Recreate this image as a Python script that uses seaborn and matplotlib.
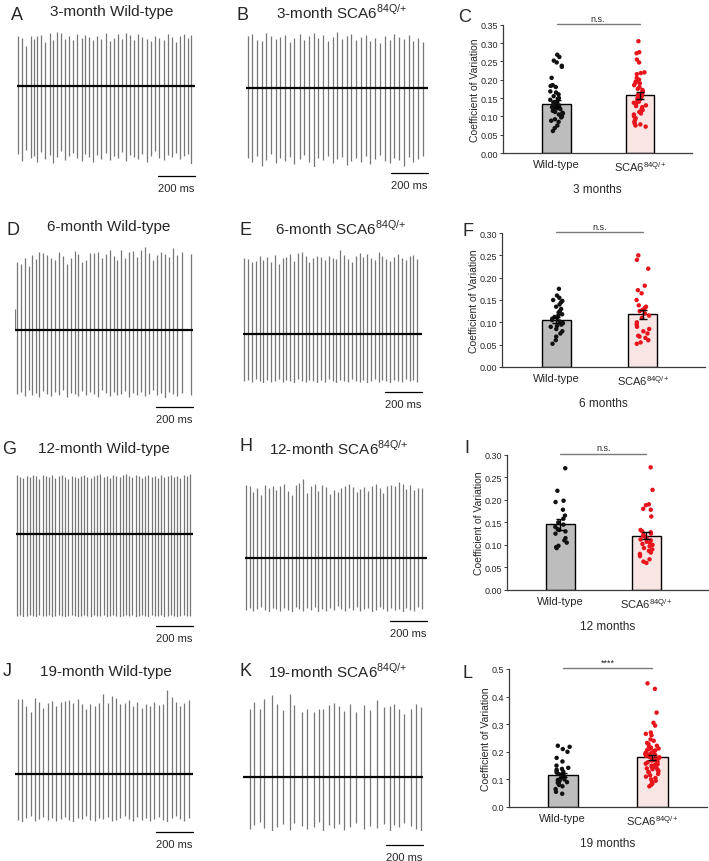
import numpy as np
import pandas as pd
import matplotlib
matplotlib.use("Agg")
import matplotlib.pyplot as plt
import seaborn as sns

sns.set_theme(style="white")
plt.rcParams["font.family"] = ["Liberation Sans", "DejaVu Sans"]

W, H = 709, 862
PX_PER_MS = 37 / 200.0

WT = "Wild-type"
SCA = r"SCA6$^{\mathregular{84Q/{+}}}$"
GROUPS = [WT, SCA]

# ---------------- spike traces (time in ms, amplitude in trace units) ----------------
A_times = [8, 27, 50, 74, 91, 110, 130, 152, 176, 197,
           218, 240, 262, 282, 303, 325, 349, 370, 391, 412,
           434, 456, 479, 500, 524, 546, 567, 588, 609, 631,
           656, 677, 701, 722, 747, 768, 792, 816, 837, 858,
           880, 904, 922, 940]
A_peaks = [50, 48, 40, 50, 47, 50, 51, 44, 53, 46,
           54, 53, 47, 50, 46, 52, 48, 51, 49, 46,
           50, 47, 53, 45, 48, 52, 47, 53, 51, 46,
           52, 49, 47, 45, 50, 48, 46, 52, 49, 44,
           50, 52, 48, 51]
A_troughs = [-68, -75, -64, -72, -70, -76, -66, -73, -69, -77,
             -71, -65, -74, -70, -67, -72, -75, -68, -71, -76,
             -69, -73, -67, -74, -70, -72, -66, -75, -69, -71,
             -73, -68, -76, -70, -65, -72, -74, -69, -71, -67,
             -73, -70, -68, -78]

B_times = [10, 33, 60, 84, 110, 137, 160, 186, 212, 236,
           262, 290, 314, 340, 366, 390, 416, 442, 468, 492,
           518, 545, 570, 596, 622, 647, 672, 699, 724, 750,
           776, 802, 828, 853, 880, 905, 932, 958]
B_peaks = [52, 54, 48, 47, 55, 52, 49, 51, 53, 46,
           50, 54, 48, 52, 55, 50, 53, 47, 51, 56,
           49, 52, 54, 48, 51, 53, 47, 50, 45, 52,
           48, 54, 51, 49, 53, 47, 50, 46]
B_troughs = [-70, -74, -68, -78, -72, -66, -75, -70, -73, -69,
             -76, -71, -67, -74, -79, -70, -72, -68, -75, -71,
             -69, -77, -73, -70, -74, -68, -76, -71, -67, -73,
             -75, -70, -72, -78, -69, -74, -71, -68]

D_times = [0, 12, 30, 52, 74, 92, 112, 132, 153, 174, 195,
           216, 236, 258, 280, 300, 322, 342, 363, 384, 406,
           427, 448, 469, 490, 512, 533, 554, 575, 597, 618,
           640, 661, 682, 703, 724, 746, 767, 788, 810, 831,
           852, 874, 905, 950]
D_peaks = [21, 68, 66, 72, 64, 75, 71, 78, 77, 75, 72,
           70, 78, 74, 66, 72, 79, 76, 68, 70, 77,
           77, 78, 72, 76, 80, 74, 70, 80, 72, 78,
           79, 73, 80, 83, 77, 70, 75, 78, 76, 73,
           82, 75, 78, 76]
D_troughs = [0, -64, -62, -66, -60, -65, -63, -67, -61, -64, -66,
             -62, -65, -60, -67, -63, -64, -66, -61, -65, -62,
             -64, -67, -60, -63, -66, -62, -65, -64, -61, -67,
             -63, -65, -62, -66, -64, -60, -65, -63, -68, -62,
             -64, -66, -63, -65]

E_times = [8, 28, 48, 68, 90, 110, 131, 152, 172, 193,
           214, 235, 255, 276, 297, 318, 338, 359, 380, 401,
           422, 442, 463, 484, 505, 526, 546, 567, 588, 609,
           630, 650, 671, 692, 713, 734, 754, 775, 796, 817,
           838, 858, 879, 900, 920, 940]
E_peaks = [76, 75, 72, 73, 78, 74, 77, 72, 79, 70,
           76, 77, 80, 73, 81, 82, 78, 72, 76, 78,
           77, 74, 78, 76, 75, 84, 79, 75, 72, 78,
           81, 77, 80, 76, 74, 82, 78, 75, 73, 77,
           80, 76, 74, 78, 79, 75]
E_troughs = [-47, -46, -48, -45, -47, -49, -46, -48, -47, -45,
             -48, -46, -47, -49, -45, -47, -48, -46, -47, -49,
             -46, -48, -45, -47, -49, -46, -47, -48, -45, -47,
             -48, -46, -49, -47, -45, -48, -46, -47, -49, -46,
             -47, -48, -45, -47, -46, -48]

G_times = [6, 22, 40, 57, 74, 92, 109, 126, 144, 161,
           178, 196, 213, 230, 248, 265, 282, 300, 317, 334,
           352, 369, 386, 404, 421, 438, 456, 473, 490, 508,
           525, 542, 560, 577, 594, 612, 629, 646, 664, 681,
           698, 716, 733, 750, 768, 785, 802, 820, 837, 854,
           872, 889, 906, 924, 941]
G_peaks = [59, 57, 56, 58, 57, 59, 58, 55, 59, 58,
           57, 59, 56, 58, 59, 57, 55, 58, 57, 56,
           58, 59, 57, 56, 58, 59, 60, 57, 58, 56,
           59, 58, 57, 59, 60, 58, 57, 59, 58, 56,
           58, 59, 57, 58, 56, 59, 57, 58, 59, 57,
           58, 56, 59, 58, 60]
G_troughs = [-82, -81, -83, -82, -81, -82, -83, -81, -82, -82,
             -81, -83, -82, -81, -82, -83, -82, -81, -82, -83,
             -82, -81, -82, -83, -81, -82, -82, -81, -83, -82,
             -81, -82, -83, -82, -81, -82, -81, -83, -82, -81,
             -82, -83, -81, -82, -82, -81, -83, -82, -81, -82,
             -83, -82, -81, -82, -82]

H_times = [6, 25, 45, 66, 87, 108, 128, 149, 170, 190,
           211, 232, 252, 273, 294, 314, 335, 356, 376, 397,
           418, 438, 459, 480, 500, 521, 542, 562, 583, 604,
           624, 645, 666, 686, 707, 728, 748, 769, 790, 810,
           831, 852, 872, 893, 914, 934, 955]
H_peaks = [73, 72, 66, 70, 63, 73, 70, 72, 68, 72,
           74, 67, 63, 73, 75, 79, 65, 72, 74, 67,
           73, 71, 64, 68, 66, 70, 72, 74, 71, 66,
           69, 71, 67, 72, 74, 70, 65, 72, 73, 72,
           76, 74, 69, 73, 68, 70, 70]
H_troughs = [-52, -50, -53, -51, -49, -52, -54, -50, -51, -53,
             -50, -52, -54, -49, -51, -53, -50, -52, -49, -54,
             -51, -53, -50, -52, -48, -51, -53, -50, -52, -49,
             -53, -51, -50, -54, -52, -49, -51, -53, -50, -52,
             -51, -54, -50, -52, -53, -49, -51]

J_times = [14, 38, 60, 84, 106, 130, 152, 176, 200, 222,
           246, 268, 292, 314, 338, 362, 384, 408, 430, 454,
           476, 500, 522, 546, 570, 592, 616, 638, 662, 684,
           708, 732, 754, 778, 800, 824, 846, 870, 894, 916,
           940]
J_peaks = [75, 75, 68, 62, 76, 72, 66, 71, 73, 68,
           72, 73, 74, 71, 75, 70, 65, 70, 68, 71,
           80, 71, 78, 76, 70, 71, 74, 68, 72, 66,
           70, 68, 72, 69, 70, 84, 77, 72, 68, 71,
           74]
J_troughs = [-46, -48, -44, -42, -47, -45, -43, -46, -44, -47,
             -45, -43, -46, -48, -44, -45, -42, -46, -47, -44,
             -45, -43, -47, -46, -44, -42, -45, -47, -43, -46,
             -44, -47, -45, -43, -46, -48, -44, -42, -45, -47,
             -44]

K_times = [36, 61, 94, 115, 157, 184, 216, 256, 274, 319,
           346, 382, 409, 432, 463, 490, 517, 547, 580, 612,
           655, 688, 724, 760, 792, 817, 841, 868, 907, 936,
           963]
K_peaks = [68, 75, 68, 78, 82, 73, 67, 83, 72, 65,
           68, 65, 68, 68, 72, 74, 71, 66, 73, 65,
           72, 67, 77, 70, 71, 73, 68, 63, 68, 73,
           70]
K_troughs = [-52, -48, -45, -51, -54, -50, -47, -53, -46, -49,
             -52, -50, -45, -54, -48, -51, -47, -53, -50, -46,
             -52, -49, -51, -47, -54, -48, -50, -46, -49, -52,
             -54]

# ---------------- coefficient of variation data ----------------
C_wt = [0.268, 0.262, 0.252, 0.247, 0.238, 0.235, 0.205, 0.185, 0.183, 0.180,
        0.168, 0.165, 0.160, 0.155, 0.150, 0.148, 0.145, 0.140, 0.138, 0.135,
        0.133, 0.130, 0.128, 0.125, 0.122, 0.120, 0.118, 0.115, 0.112, 0.110,
        0.108, 0.105, 0.100, 0.097, 0.092, 0.088, 0.085, 0.075, 0.068, 0.060]
C_sca = [0.305, 0.275, 0.272, 0.255, 0.247, 0.220, 0.218, 0.215, 0.205, 0.200,
         0.195, 0.192, 0.190, 0.185, 0.180, 0.175, 0.172, 0.168, 0.165, 0.160,
         0.158, 0.155, 0.150, 0.148, 0.145, 0.140, 0.137, 0.135, 0.130, 0.128,
         0.125, 0.120, 0.117, 0.112, 0.108, 0.105, 0.100, 0.095, 0.090, 0.085,
         0.080, 0.078, 0.075, 0.072]
F_wt = [0.175, 0.160, 0.155, 0.150, 0.148, 0.145, 0.140, 0.135, 0.130, 0.125,
        0.122, 0.118, 0.115, 0.112, 0.110, 0.108, 0.105, 0.102, 0.100, 0.098,
        0.095, 0.092, 0.090, 0.085, 0.080, 0.075, 0.068, 0.060, 0.052]
F_sca = [0.250, 0.240, 0.220, 0.182, 0.172, 0.165, 0.150, 0.138, 0.135, 0.132,
         0.128, 0.125, 0.120, 0.115, 0.110, 0.100, 0.095, 0.090, 0.085, 0.080,
         0.075, 0.070, 0.068, 0.065, 0.060, 0.055, 0.052]
I_wt = [0.270, 0.220, 0.198, 0.195, 0.178, 0.165, 0.158, 0.150, 0.145, 0.140,
        0.135, 0.133, 0.130, 0.125, 0.115, 0.110, 0.105, 0.098, 0.095, 0.093]
I_sca = [0.272, 0.222, 0.190, 0.188, 0.180, 0.178, 0.163, 0.133, 0.130, 0.128,
         0.125, 0.122, 0.120, 0.118, 0.115, 0.112, 0.110, 0.107, 0.105, 0.102,
         0.100, 0.097, 0.093, 0.090, 0.087, 0.083, 0.080, 0.075, 0.068, 0.063,
         0.060]
L_wt = [0.222, 0.218, 0.210, 0.200, 0.178, 0.165, 0.150, 0.142, 0.138, 0.135,
        0.130, 0.128, 0.125, 0.120, 0.118, 0.115, 0.112, 0.110, 0.105, 0.100,
        0.098, 0.095, 0.090, 0.088, 0.085, 0.080, 0.075, 0.065, 0.055, 0.048]
L_sca = [0.448, 0.428, 0.342, 0.305, 0.295, 0.270, 0.265, 0.260, 0.245, 0.240,
         0.232, 0.228, 0.222, 0.218, 0.215, 0.212, 0.210, 0.207, 0.205, 0.202,
         0.200, 0.197, 0.195, 0.192, 0.190, 0.188, 0.185, 0.182, 0.180, 0.178,
         0.175, 0.172, 0.170, 0.168, 0.165, 0.162, 0.160, 0.157, 0.155, 0.152,
         0.150, 0.147, 0.145, 0.142, 0.140, 0.137, 0.135, 0.130, 0.127, 0.125,
         0.120, 0.115, 0.110, 0.105, 0.100, 0.095, 0.090, 0.085, 0.080, 0.075]

MEANS = {"C": [0.135, 0.157], "F": [0.105, 0.118], "I": [0.146, 0.120], "L": [0.115, 0.180]}
SEMS = {"C": [0.009, 0.009], "F": [0.006, 0.010], "I": [0.012, 0.008], "L": [0.007, 0.009]}
SIG = {"C": "n.s.", "F": "n.s.", "I": "n.s.", "L": "****"}
AGES = {"C": "3 months", "F": "6 months", "I": "12 months", "L": "19 months"}

BAR_COLORS = {WT: "#bdbdbd", SCA: "#fde2e2"}
PT_COLORS = {WT: "#111111", SCA: "#e8141c"}

fig = plt.figure(figsize=(W / 100, H / 100), dpi=100)


def px_axes(x0, y0, x1, y1):
    return fig.add_axes([x0 / W, 1 - y1 / H, (x1 - x0) / W, (y1 - y0) / H])


def draw_trace(x0, base_px, bar_px, dur, times, peaks, troughs):
    top = base_px - max(peaks)
    bottom = base_px - min(troughs)
    ax = px_axes(x0, top, x0 + dur * PX_PER_MS, bottom)
    ax.vlines(times, troughs, peaks, color="#777777", lw=0.9)
    ax.plot([0, dur], [0, 0], color="black", lw=1.6)
    ax.set_xlim(0, dur)
    ax.set_ylim(min(troughs), max(peaks))
    ax.axis("off")
    yb = -(bar_px - base_px)
    ax.plot([dur - 200, dur], [yb, yb], color="black", lw=0.9, clip_on=False)
    ax.text(dur - 100, yb - 12, "200 ms", ha="center", va="center", fontsize=8)


traces = [
    (17, 87, 177, 961, A_times, A_peaks, A_troughs),
    (246, 89, 174, 983, B_times, B_peaks, B_troughs),
    (15, 331, 408, 961, D_times, D_peaks, D_troughs),
    (243, 335, 393, 967, E_times, E_peaks, E_troughs),
    (16, 535, 627, 956, G_times, G_peaks, G_troughs),
    (245, 559, 622, 983, H_times, H_peaks, H_troughs),
    (15, 775, 833, 961, J_times, J_peaks, J_troughs),
    (243, 778, 846, 972, K_times, K_peaks, K_troughs),
]
for t in traces:
    draw_trace(*t)

# right column: CV bar + strip plots
panels = [
    ("C", C_wt, C_sca, (503, 25.7, 692, 154), (-0.645, 1.63), 0.35, 0.05, "%.2f"),
    ("F", F_wt, F_sca, (502, 234, 705, 368), (-0.63, 1.72), 0.30, 0.05, "%.2f"),
    ("I", I_wt, I_sca, (507, 455.7, 708, 591), (-0.62, 1.72), 0.30, 0.05, "%.2f"),
    ("L", L_wt, L_sca, (509, 670, 707, 808), (-0.6, 1.61), 0.5, 0.1, "%.1f"),
]

np.random.seed(3)
for key, wt, sca, box, xlim, ymax, ystep, fmt in panels:
    ax = px_axes(*box)
    bars = pd.DataFrame({"group": GROUPS, "cv": MEANS[key]})
    pts = pd.DataFrame({"group": [WT] * len(wt) + [SCA] * len(sca), "cv": wt + sca})
    sns.barplot(data=bars, x="group", y="cv", hue="group", order=GROUPS,
                palette=BAR_COLORS, width=0.34, edgecolor="black", linewidth=1,
                errorbar=None, legend=False, ax=ax)
    sns.stripplot(data=pts, x="group", y="cv", hue="group", order=GROUPS,
                  palette=PT_COLORS, jitter=0.08, size=3.2, linewidth=0,
                  legend=False, ax=ax, zorder=3)
    ax.errorbar([0, 1], MEANS[key], yerr=SEMS[key], fmt="none", ecolor="black",
                elinewidth=1, capsize=3, capthick=1, zorder=5)
    ax.set_xlim(*xlim)
    ax.set_ylim(0, ymax)
    ticks = np.arange(0, ymax + 1e-9, ystep)
    ax.set_yticks(ticks)
    ax.set_yticklabels([fmt % v for v in ticks])
    sns.despine(ax=ax)
    for s in ("left", "bottom"):
        ax.spines[s].set_color("#3a3a3a")
        ax.spines[s].set_linewidth(0.9)
    ax.tick_params(axis="y", left=True, length=2, width=0.7, color="#3a3a3a",
                   labelsize=6.5, pad=1.5)
    ax.tick_params(axis="x", bottom=False, length=0, labelsize=8, pad=4.5)
    ax.set_ylabel("Coefficient of Variation", fontsize=7.5, labelpad=0.5)
    ax.set_xlabel(AGES[key], fontsize=8.5, labelpad=7)
    yl = ymax * 1.005
    ax.plot([0, 1], [yl, yl], color="#7a7a7a", lw=1, clip_on=False)
    ax.text(0.5, yl + ymax * 0.012, SIG[key], ha="center", va="bottom", fontsize=6.5)

# titles and panel letters
titles = [
    (50, 12, "3-month Wild-type"),
    (276, 12, "3-month " + SCA),
    (47, 227, "6-month Wild-type"),
    (275, 228, "6-month " + SCA),
    (38, 449, "12-month Wild-type"),
    (269, 448, "12-month " + SCA),
    (40, 672, "19-month Wild-type"),
    (268, 671, "19-month " + SCA),
]
for x, y, s in titles:
    fig.text(x / W, 1 - y / H, s, ha="left", va="center", fontsize=11)

letters = [
    (11, 16, "A"), (236, 16, "B"), (458, 18, "C"),
    (7, 231, "D"), (240, 231, "E"), (462, 232, "F"),
    (2, 450, "G"), (240, 447, "H"), (464, 449, "I"),
    (3, 672, "J"), (240, 672, "K"), (462, 674, "L"),
]
for x, y, s in letters:
    fig.text(x / W, 1 - y / H, s, ha="left", va="center", fontsize=13)

fig.savefig("out.png", dpi=100)
